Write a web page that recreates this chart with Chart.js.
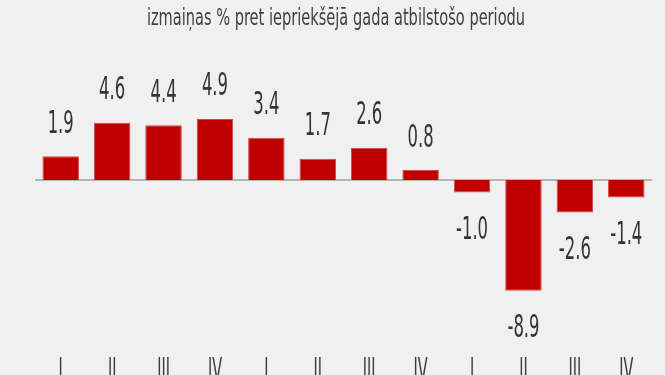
<!DOCTYPE html>
<html>
<head>
<meta charset="utf-8">
<script src="https://cdn.jsdelivr.net/npm/chart.js@4.4.1/dist/chart.umd.min.js"></script>
<style>
  html, body { margin: 0; padding: 0; background: #f0f0f0; overflow: hidden; }
</style>
</head>
<body>
<canvas id="grafica" width="665" height="375"></canvas>
<script>
const titulo = 'izmaiņas % pret iepriekšējā gada atbilstošo periodu';
const ceturksni = ['I', 'II', 'III', 'IV', 'I', 'II', 'III', 'IV', 'I', 'II', 'III', 'IV'];
const izmainas = [1.9, 4.6, 4.4, 4.9, 3.4, 1.7, 2.6, 0.8, -1.0, -8.9, -2.6, -1.4];
const asisMin = -11;
const asisMax = 6;

const fonts = '"Liberation Sans Narrow", "DejaVu Sans Condensed", sans-serif';

// the original uses a very condensed face, so squeeze the text
function squeezedText(ctx, text, x, y, size, scaleX, color) {
  ctx.save();
  ctx.font = size + 'px ' + fonts;
  ctx.fillStyle = color;
  ctx.textAlign = 'center';
  ctx.textBaseline = 'alphabetic';
  ctx.translate(x, y);
  ctx.scale(scaleX, 1);
  ctx.fillText(text, 0, 0);
  ctx.restore();
}

const etiquetas = {
  id: 'etiquetas',
  beforeDatasetsDraw(chart) {
    // zero line
    const ctx = chart.ctx;
    const area = chart.chartArea;
    const y0 = chart.scales.y.getPixelForValue(0);
    ctx.save();
    ctx.strokeStyle = '#b4b4b4';
    ctx.lineWidth = 2;
    ctx.beginPath();
    ctx.moveTo(area.left, y0);
    ctx.lineTo(area.right, y0);
    ctx.stroke();
    ctx.restore();
  },
  afterDatasetsDraw(chart) {
    const ctx = chart.ctx;
    const xScale = chart.scales.x;
    const meta = chart.getDatasetMeta(0);
    meta.data.forEach(function(bar, i) {
      const v = izmainas[i];
      const txt = v.toFixed(1);
      if (v >= 0) {
        squeezedText(ctx, txt, bar.x, bar.y - 23.5, 32, 0.57, '#333333');
      } else {
        squeezedText(ctx, txt, bar.x, bar.y + 46.5, 32, 0.57, '#333333');
      }
    });
    // quarter labels under the chart (cut off by the bottom edge)
    ceturksni.forEach(function(c, i) {
      squeezedText(ctx, c, xScale.getPixelForValue(i), 380, 32, 0.5, '#3a3a3a');
    });
    squeezedText(ctx, titulo, 336, 25, 23, 0.705, '#404040');
  }
};

new Chart(document.getElementById('grafica'), {
  type: 'bar',
  data: {
    labels: ceturksni,
    datasets: [{
      data: izmainas,
      backgroundColor: '#c00000',
      borderColor: '#d04848',
      borderWidth: 1,
      categoryPercentage: 1,
      barPercentage: 0.71
    }]
  },
  options: {
    responsive: false,
    animation: false,
    devicePixelRatio: 1,
    layout: { autoPadding: false, padding: { left: 35, right: 13, top: 105.3, bottom: 58 } },
    plugins: {
      legend: { display: false },
      tooltip: { enabled: false }
    },
    scales: {
      x: { display: false },
      y: { display: false, min: asisMin, max: asisMax }
    }
  },
  plugins: [etiquetas]
});
</script>
</body>
</html>
